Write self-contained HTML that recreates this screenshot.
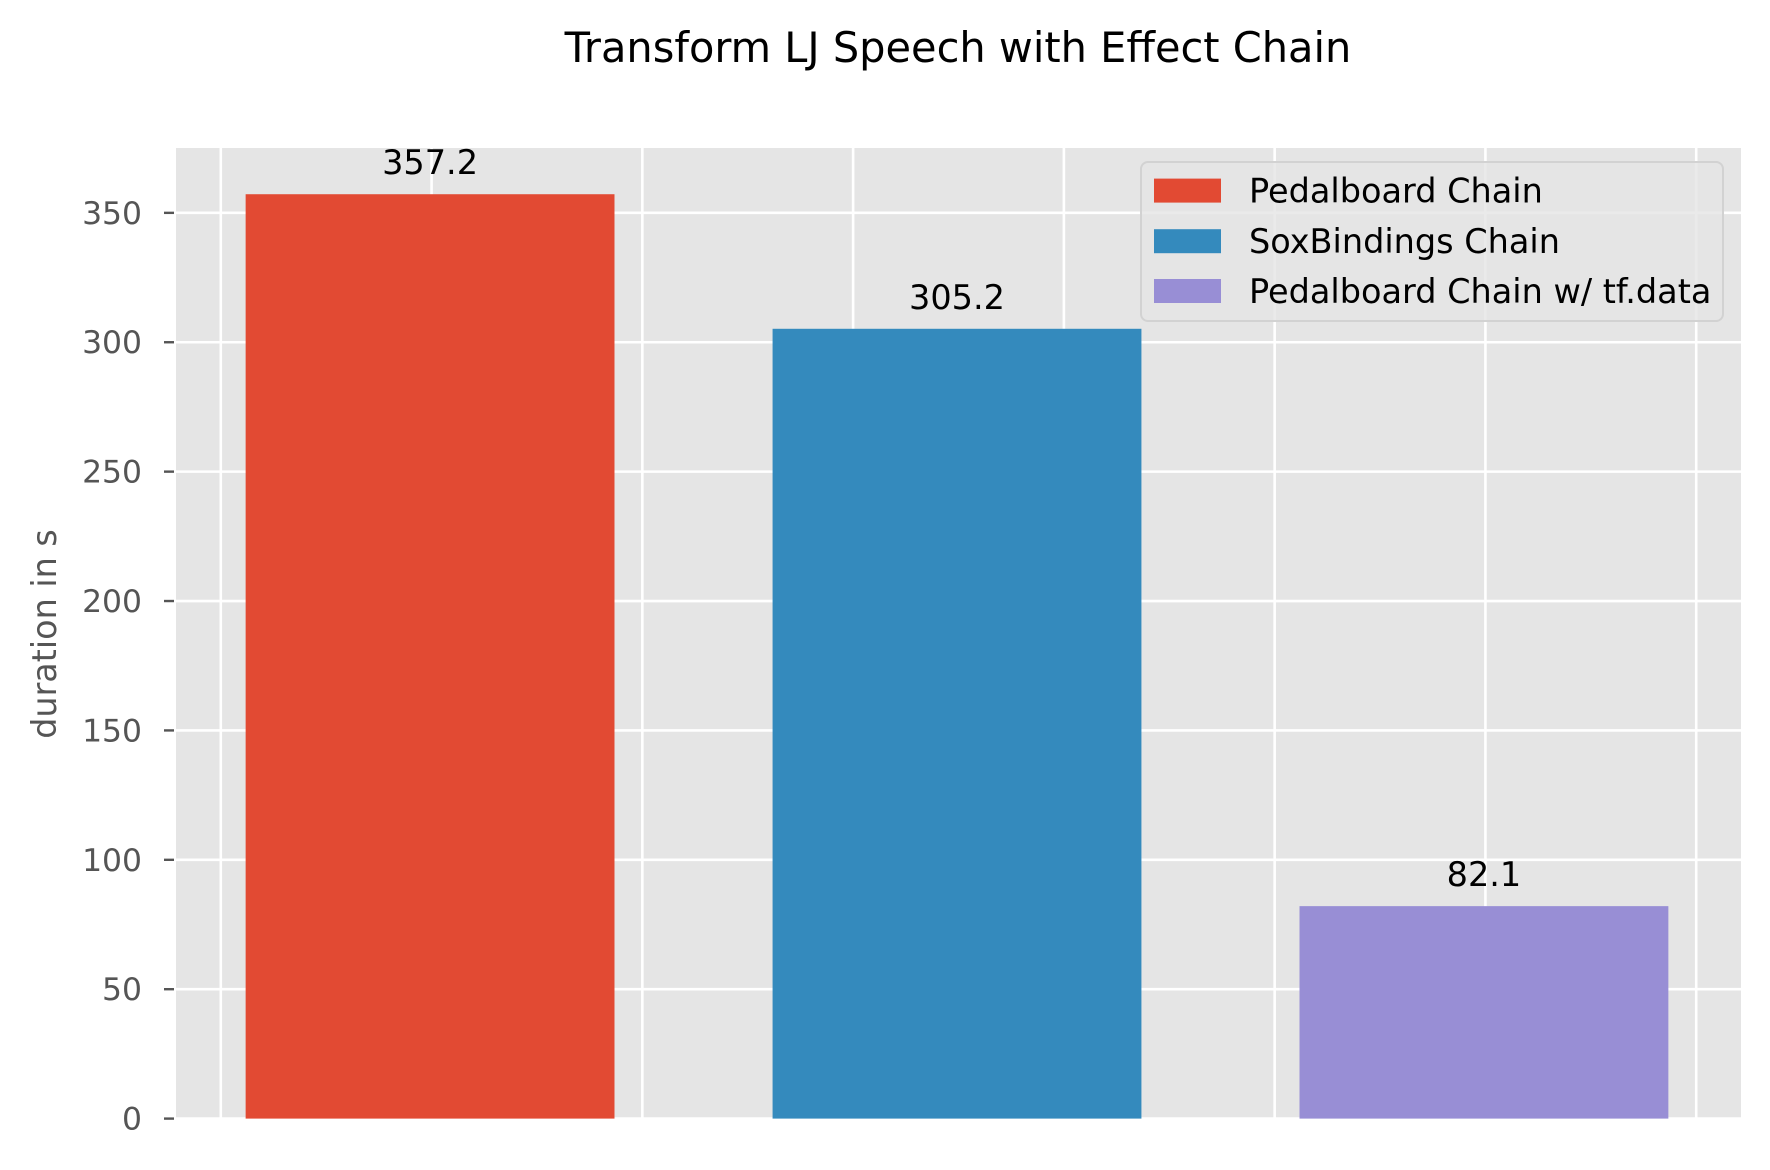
<!DOCTYPE html>
<html><head><meta charset="utf-8"><style>
html,body{margin:0;padding:0;background:#fff}
svg{display:block;font-family:"DejaVu Sans","Liberation Sans",sans-serif}
</style></head><body>
<svg id="chart" width="1770" height="1170" viewBox="0 0 1770 1170">
<rect x="0" y="0" width="1770" height="1170" fill="#fff"/>
<text x="958" y="62" font-size="41.5" text-anchor="middle" fill="#000">Transform LJ Speech with Effect Chain</text>
<text transform="translate(56,634) rotate(-90)" font-size="33.4" text-anchor="middle" fill="#555">duration in s</text>
<g id="plot"></g>
</svg>
<script>
const categories = ["Pedalboard Chain", "SoxBindings Chain", "Pedalboard Chain w/ tf.data"];
const values = [357.2, 305.2, 82.1];
const valueLabels = ["357.2", "305.2", "82.1"];
const colors = ["#E24A33", "#348ABD", "#988ED5"];
const yTicks = [0, 50, 100, 150, 200, 250, 300, 350];
const xGridTicks = [-0.4, 0, 0.4, 0.8, 1.2, 1.6, 2.0, 2.4];

const NS = "http://www.w3.org/2000/svg";
const L = 176, R = 1741, T = 148, B = 1118.6;
const xMin = -0.485, xMax = 2.485, yMax = 375.06;
const xs = v => L + (v - xMin) / (xMax - xMin) * (R - L);
const ys = v => B - v / yMax * (B - T);
const g = document.getElementById('plot');
function mk(tag, attrs, parent) {
  const e = document.createElementNS(NS, tag);
  for (const k in attrs) e.setAttribute(k, attrs[k]);
  (parent || g).appendChild(e);
  return e;
}
const bg = mk('rect', {x: L, y: T, width: R - L, height: B - T, fill: '#E5E5E5'});


xGridTicks.forEach(t => {
  const l = mk('line', {x1: xs(t), x2: xs(t), y1: T, y2: B, stroke: '#fff', 'stroke-width': 2.6});
  
  
});
yTicks.forEach(t => {
  const y = ys(t);
  const l = mk('line', {x1: L, x2: R, y1: y, y2: y, stroke: '#fff', 'stroke-width': 2.6});
  
  
  const tk = mk('line', {x1: L - 12, x2: L - 2, y1: y, y2: y, stroke: '#555', 'stroke-width': 2.4});
  
  
  const tx = mk('text', {x: 142, y: y + 11, 'font-size': 31.4, 'text-anchor': 'end', fill: '#555'});
  tx.textContent = t;
  
  
});
const bw = 0.7;
values.forEach((v, i) => {
  const x0 = xs(i - bw / 2) - 1.5, x1 = xs(i + bw / 2) - 1.5;
  const b = mk('rect', {x: x0, y: ys(v), width: x1 - x0, height: B - ys(v), fill: colors[i]});
  
  
  const t = mk('text', {x: xs(i) - 1.5, y: ys(v) - 20, 'font-size': 33.5, 'text-anchor': 'middle', fill: '#000'});
  t.textContent = valueLabels[i];
  
  
});
// legend
const lg = mk('g', {});


mk('rect', {x: 1141, y: 162, width: 582, height: 159, rx: 7, fill: 'rgba(229,229,229,0.8)', stroke: '#d2d2d2', 'stroke-width': 2}, lg);
const rowY = [190.6, 241.2, 291.0];
categories.forEach((c, i) => {
  const p = mk('rect', {x: 1154, y: rowY[i] - 12, width: 67, height: 24, fill: colors[i]}, lg);
  
  
  const t = mk('text', {x: 1249, y: rowY[i] + 12, 'font-size': 33.5, fill: '#000'}, lg);
  t.textContent = c;
  
  
});
</script>
</body></html>
